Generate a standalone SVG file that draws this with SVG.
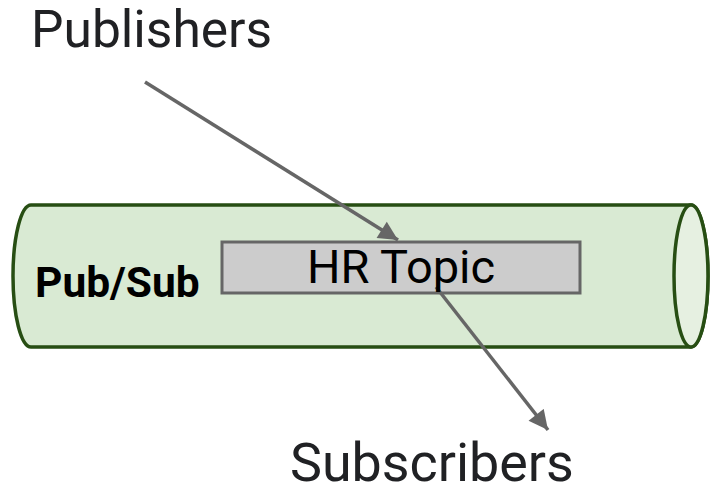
<svg xmlns="http://www.w3.org/2000/svg" width="710" height="493" viewBox="0 0 710 493">
<style>
.lbl{font-family:Roboto,"Liberation Sans",sans-serif;fill:#202124}
.conn{stroke:#666666;stroke-width:3.5;fill:none}
</style>
<defs>
<marker id="ah" viewBox="0 0 10 10" refX="10" refY="5" markerWidth="6" markerHeight="5.5" markerUnits="strokeWidth" orient="auto">
<path d="M0,0 L10,5 L0,10 z" fill="#666666"/>
</marker>
</defs>
<rect width="710" height="493" fill="#ffffff"/>
<g id="pubsub">
<path d="M31,205 L691,205 A17,71 0 0 1 691,347 L31,347 A18,71 0 0 1 31,205 Z" fill="#d9ead3" stroke="#274e13" stroke-width="3.5"/>
<ellipse cx="691" cy="276" rx="17" ry="71" fill="#e6f0e1" stroke="#274e13" stroke-width="3.5"/>
<text x="35" y="297" font-family="Roboto,'Liberation Sans',sans-serif" font-weight="bold" font-size="42.5" fill="#000000">Pub/Sub</text>
</g>
<g id="topic">
<rect x="222" y="242" width="358" height="51" fill="#cccccc" stroke="#666666" stroke-width="3"/>
</g>
<g id="connectors">
<line class="conn" x1="145" y1="82" x2="398" y2="240" marker-end="url(#ah)"/>
<line class="conn" x1="436" y1="287" x2="548" y2="430" marker-end="url(#ah)"/>
</g>
<g id="topic-label">
<text x="401" y="283" text-anchor="middle" font-family="Roboto,'Liberation Sans',sans-serif" font-size="47" fill="#000000">HR Topic</text>
</g>
<g id="publishers">
<text class="lbl" x="31" y="47" font-size="51.5">Publishers</text>
</g>
<g id="subscribers">
<text class="lbl" x="290" y="481" font-size="53.8">Subscribers</text>
</g>
</svg>
